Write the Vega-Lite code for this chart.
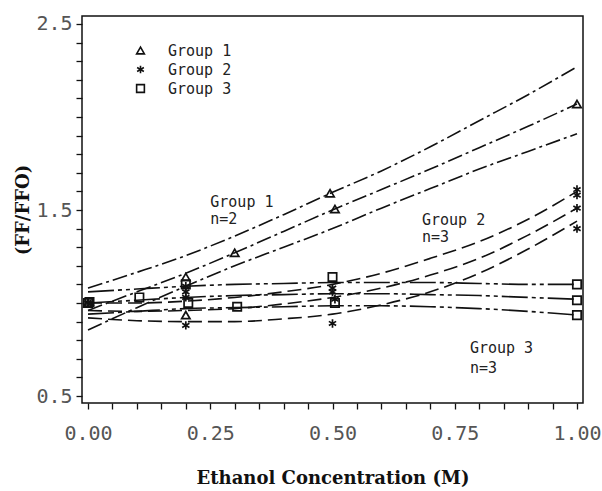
{
  "$schema": "https://vega.github.io/schema/vega-lite/v6.json",
  "width": 501,
  "height": 387,
  "autosize": {"type": "none"},
  "padding": {"left": 82, "top": 16, "right": 19, "bottom": 88},
  "background": "white",
  "config": {
    "view": {"stroke": "#111", "strokeWidth": 1.5},
    "legend": {
      "orient": "none", "legendX": 51, "legendY": 27, "padding": 0,
      "labelFont": "DejaVu Sans Mono", "labelFontSize": 15, "labelColor": "#222",
      "symbolStrokeColor": "#111", "symbolStrokeWidth": 1.6, "symbolSize": 60,
      "rowPadding": 3, "labelOffset": 20
    }
  },
  "datasets": {
    "curves": [
      {"grp":"G1","band":"G1u","x":0,"y":1.08},{"grp":"G1","band":"G1u","x":0.1,"y":1.165},{"grp":"G1","band":"G1u","x":0.2,"y":1.255},{"grp":"G1","band":"G1u","x":0.3,"y":1.36},{"grp":"G1","band":"G1u","x":0.4,"y":1.475},{"grp":"G1","band":"G1u","x":0.5,"y":1.595},{"grp":"G1","band":"G1u","x":0.6,"y":1.71},{"grp":"G1","band":"G1u","x":0.7,"y":1.84},{"grp":"G1","band":"G1u","x":0.8,"y":1.98},{"grp":"G1","band":"G1u","x":0.9,"y":2.12},{"grp":"G1","band":"G1u","x":1.0,"y":2.27},
      {"grp":"G1","band":"G1m","x":0,"y":0.96},{"grp":"G1","band":"G1m","x":0.1,"y":1.06},{"grp":"G1","band":"G1m","x":0.2,"y":1.16},{"grp":"G1","band":"G1m","x":0.3,"y":1.27},{"grp":"G1","band":"G1m","x":0.4,"y":1.385},{"grp":"G1","band":"G1m","x":0.5,"y":1.5},{"grp":"G1","band":"G1m","x":0.6,"y":1.61},{"grp":"G1","band":"G1m","x":0.7,"y":1.72},{"grp":"G1","band":"G1m","x":0.8,"y":1.835},{"grp":"G1","band":"G1m","x":0.9,"y":1.95},{"grp":"G1","band":"G1m","x":1.0,"y":2.07},
      {"grp":"G1","band":"G1l","x":0,"y":0.855},{"grp":"G1","band":"G1l","x":0.1,"y":0.975},{"grp":"G1","band":"G1l","x":0.2,"y":1.09},{"grp":"G1","band":"G1l","x":0.3,"y":1.2},{"grp":"G1","band":"G1l","x":0.4,"y":1.3},{"grp":"G1","band":"G1l","x":0.5,"y":1.4},{"grp":"G1","band":"G1l","x":0.6,"y":1.51},{"grp":"G1","band":"G1l","x":0.7,"y":1.615},{"grp":"G1","band":"G1l","x":0.8,"y":1.72},{"grp":"G1","band":"G1l","x":0.9,"y":1.815},{"grp":"G1","band":"G1l","x":1.0,"y":1.91},
      {"grp":"G2","band":"G2u","x":0,"y":1.0},{"grp":"G2","band":"G2u","x":0.1,"y":1.0},{"grp":"G2","band":"G2u","x":0.2,"y":1.01},{"grp":"G2","band":"G2u","x":0.3,"y":1.03},{"grp":"G2","band":"G2u","x":0.4,"y":1.06},{"grp":"G2","band":"G2u","x":0.5,"y":1.1},{"grp":"G2","band":"G2u","x":0.6,"y":1.16},{"grp":"G2","band":"G2u","x":0.7,"y":1.24},{"grp":"G2","band":"G2u","x":0.8,"y":1.33},{"grp":"G2","band":"G2u","x":0.9,"y":1.45},{"grp":"G2","band":"G2u","x":1.0,"y":1.6},
      {"grp":"G2","band":"G2m","x":0,"y":0.96},{"grp":"G2","band":"G2m","x":0.1,"y":0.955},{"grp":"G2","band":"G2m","x":0.2,"y":0.96},{"grp":"G2","band":"G2m","x":0.3,"y":0.97},{"grp":"G2","band":"G2m","x":0.4,"y":0.995},{"grp":"G2","band":"G2m","x":0.5,"y":1.03},{"grp":"G2","band":"G2m","x":0.6,"y":1.08},{"grp":"G2","band":"G2m","x":0.7,"y":1.15},{"grp":"G2","band":"G2m","x":0.8,"y":1.24},{"grp":"G2","band":"G2m","x":0.9,"y":1.365},{"grp":"G2","band":"G2m","x":1.0,"y":1.51},
      {"grp":"G2","band":"G2l","x":0,"y":0.92},{"grp":"G2","band":"G2l","x":0.1,"y":0.905},{"grp":"G2","band":"G2l","x":0.2,"y":0.9},{"grp":"G2","band":"G2l","x":0.3,"y":0.9},{"grp":"G2","band":"G2l","x":0.4,"y":0.915},{"grp":"G2","band":"G2l","x":0.5,"y":0.94},{"grp":"G2","band":"G2l","x":0.6,"y":0.99},{"grp":"G2","band":"G2l","x":0.7,"y":1.06},{"grp":"G2","band":"G2l","x":0.8,"y":1.16},{"grp":"G2","band":"G2l","x":0.9,"y":1.29},{"grp":"G2","band":"G2l","x":1.0,"y":1.44},
      {"grp":"G3","band":"G3t","x":0,"y":1.06},{"grp":"G3","band":"G3t","x":0.1,"y":1.075},{"grp":"G3","band":"G3t","x":0.2,"y":1.09},{"grp":"G3","band":"G3t","x":0.3,"y":1.1},{"grp":"G3","band":"G3t","x":0.4,"y":1.105},{"grp":"G3","band":"G3t","x":0.5,"y":1.11},{"grp":"G3","band":"G3t","x":0.6,"y":1.11},{"grp":"G3","band":"G3t","x":0.7,"y":1.11},{"grp":"G3","band":"G3t","x":0.8,"y":1.105},{"grp":"G3","band":"G3t","x":0.9,"y":1.1},{"grp":"G3","band":"G3t","x":1.0,"y":1.1},
      {"grp":"G3","band":"G3m","x":0,"y":1.0},{"grp":"G3","band":"G3m","x":0.1,"y":1.015},{"grp":"G3","band":"G3m","x":0.2,"y":1.03},{"grp":"G3","band":"G3m","x":0.3,"y":1.04},{"grp":"G3","band":"G3m","x":0.4,"y":1.045},{"grp":"G3","band":"G3m","x":0.5,"y":1.05},{"grp":"G3","band":"G3m","x":0.6,"y":1.05},{"grp":"G3","band":"G3m","x":0.7,"y":1.045},{"grp":"G3","band":"G3m","x":0.8,"y":1.04},{"grp":"G3","band":"G3m","x":0.9,"y":1.03},{"grp":"G3","band":"G3m","x":1.0,"y":1.02},
      {"grp":"G3","band":"G3b","x":0,"y":0.94},{"grp":"G3","band":"G3b","x":0.1,"y":0.955},{"grp":"G3","band":"G3b","x":0.2,"y":0.97},{"grp":"G3","band":"G3b","x":0.3,"y":0.975},{"grp":"G3","band":"G3b","x":0.4,"y":0.98},{"grp":"G3","band":"G3b","x":0.5,"y":0.985},{"grp":"G3","band":"G3b","x":0.6,"y":0.985},{"grp":"G3","band":"G3b","x":0.7,"y":0.98},{"grp":"G3","band":"G3b","x":0.8,"y":0.97},{"grp":"G3","band":"G3b","x":0.9,"y":0.955},{"grp":"G3","band":"G3b","x":1.0,"y":0.935}
    ],
    "points": [
      {"grp":"Group 1","x":0,"y":1.0},{"grp":"Group 1","x":0.2,"y":1.14},{"grp":"Group 1","x":0.2,"y":0.935},{"grp":"Group 1","x":0.3,"y":1.27},{"grp":"Group 1","x":0.495,"y":1.59},{"grp":"Group 1","x":0.505,"y":1.505},{"grp":"Group 1","x":1.0,"y":2.07},
      {"grp":"Group 2","x":0,"y":1.0},{"grp":"Group 2","x":0.005,"y":0.995},{"grp":"Group 2","x":0.2,"y":1.09},{"grp":"Group 2","x":0.2,"y":1.06},{"grp":"Group 2","x":0.2,"y":1.03},{"grp":"Group 2","x":0.2,"y":0.88},{"grp":"Group 2","x":0.5,"y":1.08},{"grp":"Group 2","x":0.5,"y":1.06},{"grp":"Group 2","x":0.505,"y":1.02},{"grp":"Group 2","x":0.5,"y":0.89},{"grp":"Group 2","x":1.0,"y":1.61},{"grp":"Group 2","x":1.0,"y":1.58},{"grp":"Group 2","x":1.0,"y":1.51},{"grp":"Group 2","x":1.0,"y":1.4},
      {"grp":"Group 3","x":0,"y":1.0},{"grp":"Group 3","x":0.003,"y":1.005},{"grp":"Group 3","x":0.105,"y":1.03},{"grp":"Group 3","x":0.2,"y":1.1},{"grp":"Group 3","x":0.205,"y":1.0},{"grp":"Group 3","x":0.305,"y":0.98},{"grp":"Group 3","x":0.5,"y":1.14},{"grp":"Group 3","x":0.505,"y":1.0},{"grp":"Group 3","x":1.0,"y":1.1},{"grp":"Group 3","x":1.0,"y":1.015},{"grp":"Group 3","x":1.0,"y":0.935}
    ],
    "notes": [
      {"x":0.25,"y":1.543,"label":"Group 1"},{"x":0.25,"y":1.452,"label":"n=2"},
      {"x":0.683,"y":1.446,"label":"Group 2"},{"x":0.683,"y":1.355,"label":"n=3"},
      {"x":0.781,"y":0.758,"label":"Group 3"},{"x":0.781,"y":0.65,"label":"n=3"}
    ]
  },
  "encoding": {
    "x": {
      "field": "x", "type": "quantitative",
      "scale": {"domain": [-0.0123, 1.0123], "nice": false, "zero": false},
      "axis": {
        "values": [0,0.05,0.1,0.15,0.2,0.25,0.3,0.35,0.4,0.45,0.5,0.55,0.6,0.65,0.7,0.75,0.8,0.85,0.9,0.95,1.0],
        "labelExpr": "indexof([0,0.25,0.5,0.75,1], datum.value) >= 0 ? format(datum.value, '.2f') : ''",
        "grid": false, "domain": false, "tickSize": 6, "tickWidth": 1.3, "tickColor": "#111",
        "labelFont": "DejaVu Sans Mono", "labelFontSize": 20, "labelColor": "#555",
        "labelPadding": 14, "labelOverlap": false, "labelFlush": false,
        "title": "Ethanol Concentration (M)", "titleFont": "DejaVu Serif", "titleFontSize": 18,
        "titleFontWeight": "bold", "titleColor": "#111", "titlePadding": 26
      }
    },
    "y": {
      "field": "y", "type": "quantitative",
      "scale": {"domain": [0.4624, 2.543], "nice": false, "zero": false},
      "axis": {
        "values": [0.5,0.6,0.7,0.8,0.9,1.0,1.1,1.2,1.3,1.4,1.5,1.6,1.7,1.8,1.9,2.0,2.1,2.2,2.3,2.4,2.5],
        "labelExpr": "indexof([0.5,1.5,2.5], datum.value) >= 0 ? format(datum.value, '.1f') : ''",
        "grid": false, "domain": false, "tickSize": 6, "tickWidth": 1.3, "tickColor": "#111",
        "labelFont": "DejaVu Sans Mono", "labelFontSize": 20, "labelColor": "#555",
        "labelPadding": 4, "labelOverlap": false, "labelFlush": false,
        "title": "(FF/FFO)", "titleFont": "DejaVu Serif", "titleFontSize": 18,
        "titleFontWeight": "bold", "titleColor": "#111", "titlePadding": 3
      }
    }
  },
  "layer": [
    {
      "data": {"name": "curves"},
      "mark": {"type": "line", "interpolate": "monotone", "color": "#111", "strokeWidth": 1.6},
      "encoding": {
        "detail": {"field": "band", "type": "nominal"},
        "strokeDash": {
          "field": "grp", "type": "nominal",
          "scale": {"domain": ["G1","G2","G3"], "range": [[15,4,3,4],[14,6],[26,4,4,4,4,4]]},
          "legend": null
        }
      }
    },
    {
      "data": {"name": "points"},
      "mark": {"type": "point", "filled": false, "strokeWidth": 1.7, "color": "#111", "size": 70, "opacity": 1},
      "encoding": {
        "shape": {
          "field": "grp", "type": "nominal",
          "scale": {"domain": ["Group 1","Group 2","Group 3"], "range": ["triangle-up", "M0,-1L0,1M-0.87,-0.5L0.87,0.5M-0.87,0.5L0.87,-0.5", "square"]},
          "legend": {"title": null}
        }
      }
    },
    {
      "data": {"name": "notes"},
      "mark": {"type": "text", "align": "left", "baseline": "middle", "font": "DejaVu Sans Mono", "fontSize": 15, "color": "#222"},
      "encoding": {"text": {"field": "label", "type": "nominal"}}
    }
  ]
}
